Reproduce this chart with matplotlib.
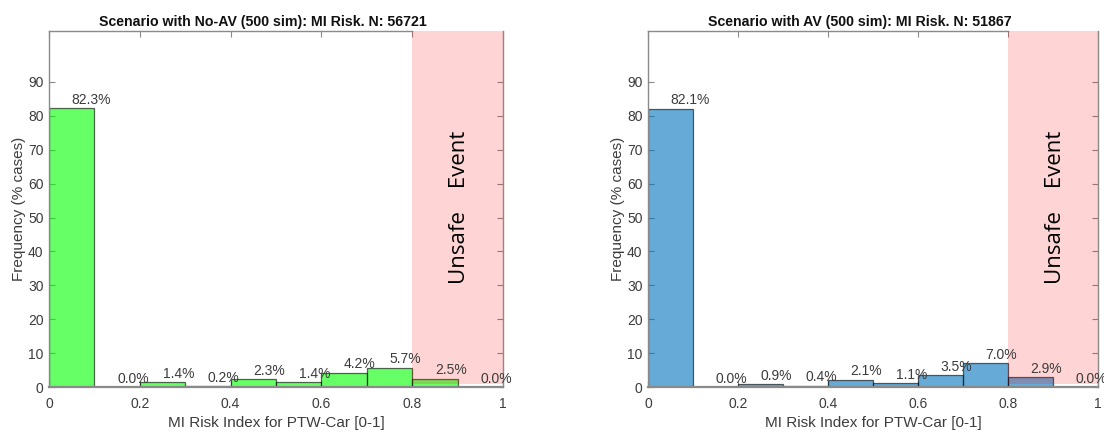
import matplotlib
matplotlib.use("Agg")
import matplotlib.pyplot as plt
import numpy as np
from matplotlib.patches import Rectangle

plt.rcParams["font.family"] = ["Liberation Sans", "DejaVu Sans"]

# histogram bins of the MI risk index and the share of cases (%) per bin
bin_edges = [0.0, 0.1, 0.2, 0.3, 0.4, 0.5, 0.6, 0.7, 0.8, 0.9, 1.0]
no_av_pct = [82.3, 0.0, 1.4, 0.2, 2.3, 1.4, 4.2, 5.7, 2.5, 0.0]
av_pct = [82.1, 0.0, 0.9, 0.4, 2.1, 1.1, 3.5, 7.0, 2.9, 0.0]

titles = [
    "Scenario with No-AV (500 sim): MI Risk. N: 56721",
    "Scenario with AV (500 sim): MI Risk. N: 51867",
]
bar_colors = [(0.0, 1.0, 0.0), (0.0, 0.447, 0.741)]

unsafe_from = 0.8
xticks = [0, 0.2, 0.4, 0.6, 0.8, 1]
xtick_labels = ["0", "0.2", "0.4", "0.6", "0.8", "1"]
yticks = list(range(0, 100, 10))

AX_COLOR = "#8a8a8a"
TXT_COLOR = "#3c3c3c"


def draw_panel(ax, pct, color, title):
    edges = np.array(bin_edges)
    widths = np.diff(edges)
    ax.bar(edges[:-1], pct, width=widths, align="edge",
           color=color, alpha=0.6, edgecolor=(0, 0, 0, 0.65), linewidth=0.9,
           zorder=2)
    for x0, w, v in zip(edges[:-1], widths, pct):
        ax.text(x0 + w / 2, v + 2.5, f"{v:.1f}%", ha="left", va="center",
                fontsize=10, color=TXT_COLOR, zorder=5)

    # unsafe region shading
    ax.add_patch(Rectangle((unsafe_from, 1.0), 1.0 - unsafe_from, 104.5,
                           facecolor=(1.0, 0.0, 0.0), alpha=0.17,
                           edgecolor="none", zorder=3))
    ax.text(0.905, 53, "Unsafe    Event", rotation=90, ha="center",
            va="center", fontsize=16, family=["Open Sans", "DejaVu Sans"],
            color="black", zorder=5)

    ax.set_xlim(0, 1)
    ax.set_ylim(0, 105)
    ax.set_xticks(xticks)
    ax.set_xticklabels(xtick_labels)
    ax.set_yticks(yticks)
    ax.tick_params(direction="in", length=4, width=0.8, top=True, right=True,
                   colors=AX_COLOR, labelcolor=TXT_COLOR, labelsize=10)
    ax.tick_params(axis="x", pad=7)
    ax.tick_params(axis="y", pad=4)
    for sp in ax.spines.values():
        sp.set_color(AX_COLOR)
        sp.set_linewidth(1.0)
    ax.spines["top"].set_bounds(0, unsafe_from)
    ax.spines["bottom"].set_linewidth(1.6)
    ax.set_title(title, fontsize=10.2, fontweight="bold", color="#111111",
                 pad=4, x=0.471)
    ax.set_xlabel("MI Risk Index for PTW-Car [0-1]", fontsize=11,
                  color=TXT_COLOR, labelpad=4)
    ax.set_ylabel("Frequency (% cases)", fontsize=11, color=TXT_COLOR,
                  labelpad=1)


fig = plt.figure(figsize=(11.04, 4.32), dpi=100)
ax_left = fig.add_axes([0.0444, 0.104, 0.4112, 0.824])
ax_right = fig.add_axes([0.5870, 0.104, 0.4076, 0.824])

for ax, pct, color, title in zip([ax_left, ax_right], [no_av_pct, av_pct],
                                 bar_colors, titles):
    draw_panel(ax, pct, color, title)

fig.savefig("out.png", dpi=100)
